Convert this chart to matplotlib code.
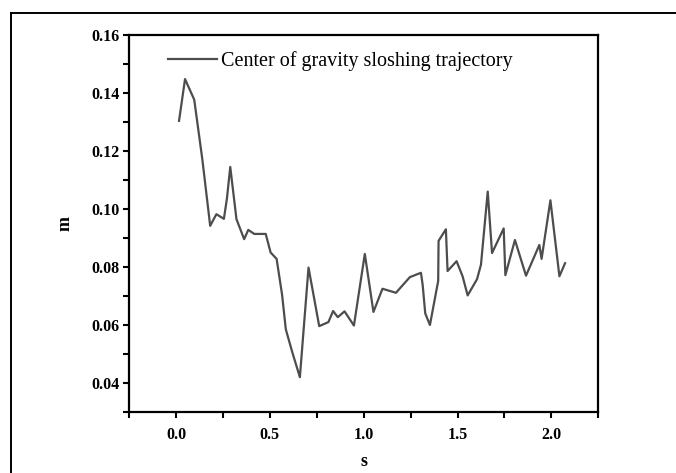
import numpy as np
import matplotlib
matplotlib.use("Agg")
import matplotlib.pyplot as plt
from matplotlib.ticker import MultipleLocator
from matplotlib.lines import Line2D

#----------------------------- data -----------------------------
time_s = [0.016, 0.048, 0.097, 0.140, 0.182, 0.215, 0.255, 0.271, 0.289, 0.322,
          0.363, 0.385, 0.417, 0.478, 0.504, 0.536, 0.565, 0.585, 0.620, 0.660,
          0.706, 0.763, 0.812, 0.837, 0.862, 0.898, 0.948, 1.006, 1.052, 1.100,
          1.172, 1.246, 1.305, 1.314, 1.328, 1.353, 1.397, 1.399, 1.438, 1.447,
          1.495, 1.527, 1.554, 1.604, 1.625, 1.661, 1.684, 1.746, 1.755, 1.806,
          1.865, 1.936, 1.948, 1.995, 2.043, 2.073]
cog_m = [0.1304, 0.1448, 0.1377, 0.1172, 0.0942, 0.0982, 0.0966, 0.1035, 0.1145, 0.0965,
         0.0896, 0.0928, 0.0914, 0.0914, 0.0850, 0.0828, 0.0705, 0.0585, 0.0505, 0.0420,
         0.0798, 0.0596, 0.0610, 0.0648, 0.0627, 0.0647, 0.0598, 0.0845, 0.0645, 0.0725,
         0.0711, 0.0765, 0.0780, 0.0740, 0.0640, 0.0600, 0.0752, 0.0890, 0.0930, 0.0786,
         0.0820, 0.0768, 0.0702, 0.0758, 0.0808, 0.1060, 0.0848, 0.0933, 0.0772, 0.0893,
         0.0770, 0.0876, 0.0828, 0.1030, 0.0768, 0.0813]
series_label = "Center of gravity sloshing trajectory"
x_ticks = [0.0, 0.5, 1.0, 1.5, 2.0]
y_ticks = [0.04, 0.06, 0.08, 0.10, 0.12, 0.14, 0.16]

#----------------------------- plotting ---------------------------------------------------
plt.rcParams["font.family"] = ["Liberation Serif", "DejaVu Serif"]

fig = plt.figure(figsize=(6.76, 4.73), dpi=100)
ax = fig.add_axes([0.191, 0.129, 0.694, 0.797])

ax.plot(time_s, cog_m, color="#4d4d4d", lw=1.6, label=series_label)

ax.set_xlim(-0.25, 2.25)
ax.set_ylim(0.03, 0.16)
ax.set_xticks(x_ticks)
ax.set_yticks(y_ticks)
ax.xaxis.set_minor_locator(MultipleLocator(0.25))
ax.yaxis.set_minor_locator(MultipleLocator(0.01))
ax.set_xticklabels([f"{v:.1f}" for v in x_ticks], fontweight="bold", fontsize=11.5)
ax.set_yticklabels([f"{v:.2f}" for v in y_ticks], fontweight="bold", fontsize=11.5)

ax.tick_params(which="both", direction="out", width=1.5, length=4.5, top=False, right=False)
ax.tick_params(axis="x", which="major", pad=6.5)
ax.tick_params(axis="y", which="major", pad=2.5)
for sp in ax.spines.values():
    sp.set_linewidth(1.6)

ax.set_xlabel("s", fontweight="bold", fontsize=13, labelpad=7)
ax.set_ylabel("m", fontweight="bold", fontsize=13, labelpad=13)

ax.legend(loc="upper left", frameon=False, fontsize=14.5, handlelength=2.4,
          handletextpad=0.2, bbox_to_anchor=(0.045, 1.005))

# outer frame of the original picture
fig.add_artist(Line2D([0.017, 1.0], [0.973, 0.973], color="black", lw=1.4,
                      transform=fig.transFigure))
fig.add_artist(Line2D([0.017, 0.017], [0.0, 0.973], color="black", lw=1.4,
                      transform=fig.transFigure))

fig.savefig("out.png", dpi=100)
